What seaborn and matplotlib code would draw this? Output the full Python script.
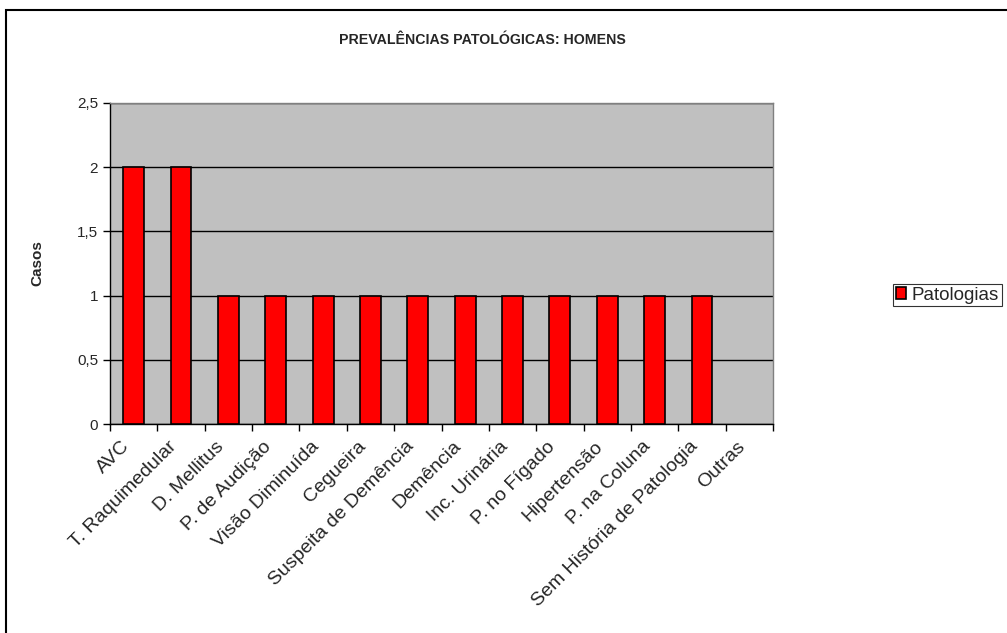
import matplotlib
matplotlib.use("Agg")
import matplotlib.pyplot as plt
import matplotlib.transforms as mtransforms
import seaborn as sns
import pandas as pd
from matplotlib.ticker import FuncFormatter, FixedLocator
from matplotlib.patches import Rectangle

categories = ["AVC", "T. Raquimedular", "D. Mellitus", "P. de Audição",
              "Visão Diminuída", "Cegueira", "Suspeita de Demência", "Demência",
              "Inc. Urinária", "P. no Fígado", "Hipertensão", "P. na Coluna",
              "Sem História de Patologia", "Outras"]
casos = [2, 2, 1, 1, 1, 1, 1, 1, 1, 1, 1, 1, 1, 0]
yticks = [0, 0.5, 1, 1.5, 2, 2.5]
series_name = "Patologias"
title = "PREVALÊNCIAS PATOLÓGICAS: HOMENS"

sns.set_style("white")
plt.rcParams['font.family'] = ['Liberation Sans', 'DejaVu Sans']

df = pd.DataFrame({"cat": categories, "casos": casos})

fig = plt.figure(figsize=(10.07, 6.33), dpi=100)
W, H = 1007, 633
ax = fig.add_axes([110 / W, 1 - 424 / H, 663 / W, 321 / H])
ax.set_facecolor("#C0C0C0")

sns.barplot(data=df, x="cat", y="casos", color="#FF0000", saturation=1,
            edgecolor="black", linewidth=1.2, width=0.44, ax=ax,
            label=series_name, zorder=3)
for p in ax.patches:
    if p.get_height() == 0:
        p.set_linewidth(0)

ax.set_ylim(0, 2.5)
ax.set_xlim(-0.5, len(categories) - 0.5)
ax.set_yticks(yticks)
ax.yaxis.set_major_formatter(FuncFormatter(lambda v, p: ("%g" % v).replace(".", ",")))
ax.yaxis.grid(True, color="black", linewidth=1.0, zorder=1)
ax.set_axisbelow(True)

# category labels, drawn at each category position with a small offset
ax.set_xticks(range(len(categories)))
ax.set_xticklabels([])
base = mtransforms.blended_transform_factory(ax.transData, ax.transAxes)
offset = mtransforms.ScaledTranslation(-7 / 100, -20 / 100, fig.dpi_scale_trans)
for i, cat in enumerate(categories):
    ax.text(i, 0, cat, transform=base + offset, rotation=45, ha="right",
            va="center", rotation_mode="anchor", fontsize=14, clip_on=False)

ax.xaxis.set_minor_locator(FixedLocator([i - 0.5 for i in range(len(categories) + 1)]))
ax.tick_params(axis="x", which="major", length=0, bottom=False)
ax.tick_params(axis="x", which="minor", length=5, width=1, color="black",
               direction="out", bottom=True)
ax.tick_params(axis="y", which="major", length=5, width=1, color="black",
               direction="out", labelsize=11, left=True)

for s in ["left", "bottom"]:
    ax.spines[s].set_color("black")
    ax.spines[s].set_linewidth(1.0)
for s in ["top", "right"]:
    ax.spines[s].set_color("#808080")
    ax.spines[s].set_linewidth(1.0)

ax.set_xlabel("")
ax.set_ylabel("Casos", fontsize=11, fontweight="bold")
ax.yaxis.set_label_coords(-66 / 663, 0.5)

fig.text(482 / W, 1 - 40 / H, title, ha="center", va="center",
         fontsize=10.2, fontweight="bold")

leg = ax.legend(loc="center left", bbox_to_anchor=(893 / W, 1 - 295 / H),
                bbox_transform=fig.transFigure, frameon=True, fancybox=False,
                edgecolor="black", fontsize=13.5, handlelength=0.55,
                handleheight=0.55, handletextpad=0.3, borderpad=0.15,
                borderaxespad=0)
leg.get_frame().set_linewidth(0.8)

fig.patches.append(Rectangle((6 / W, -0.1), 1.2, 1 - 10 / H + 0.1,
                             transform=fig.transFigure, fill=False,
                             edgecolor="black", linewidth=1.5))

fig.savefig("out.png", dpi=100)
